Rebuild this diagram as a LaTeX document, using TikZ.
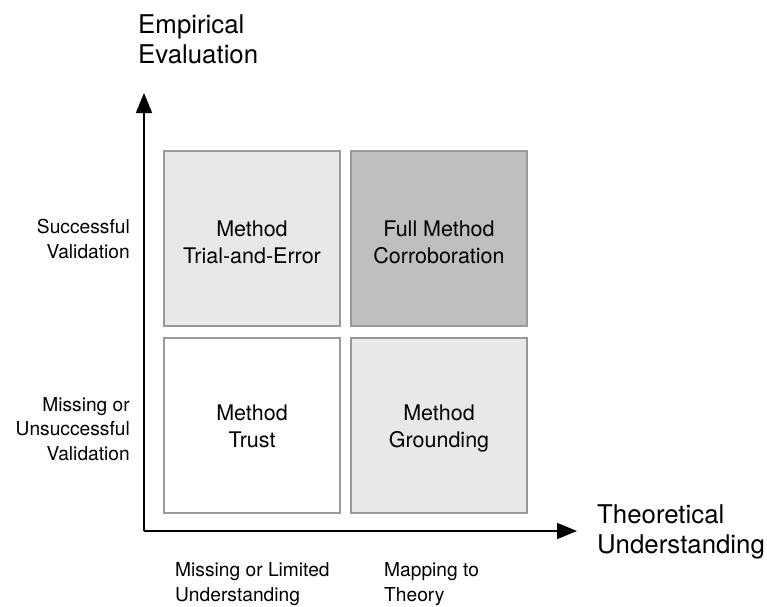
\documentclass[tikz,border=0pt]{standalone}
\usepackage{fontspec}
\setmainfont{TeX Gyre Heros}
\usetikzlibrary{arrows.meta}
\begin{document}
\begin{tikzpicture}[x=1pt,y=-1pt,
  quad/.style={draw=black!40, line width=1.5pt},
  axis/.style={line width=1.6pt, -{Triangle[length=20pt,width=16pt]}},
  boxtext/.style={font=\fontsize{21.5}{26.5}\selectfont, align=center, inner sep=0pt, anchor=base},
  sidelabel/.style={font=\fontsize{19.2}{24.5}\selectfont, inner sep=0pt},
  title/.style={font=\fontsize{25.8}{29.5}\selectfont, align=left, inner sep=0pt, anchor=base west}]
\useasboundingbox (0,0) rectangle (767,606);
% quadrants
\path[quad, fill=black!9] (164,151) rectangle (340,326);
\path[quad, fill=black!25] (351,151) rectangle (527,326);
\path[quad, fill=white] (164,338) rectangle (340,513);
\path[quad, fill=black!9] (351,338) rectangle (527,513);
\node[boxtext] (te) at (252,263) {Method\\Trial-and-Error};
\node[boxtext] (fc) at (439,263) {Full Method\\Corroboration};
\node[boxtext] (mt) at (252,447) {Method\\Trust};
\node[boxtext] (mg) at (439,447) {Method\\Grounding};
% axes
\coordinate (o) at (144,531);
\coordinate (ytip) at (144,93);
\coordinate (xtip) at (577,531);
\draw[axis] (o) -- (ytip);
\draw[axis] (o) -- (xtip);
% titles
\node[title] (yt) at (138,63) {Empirical\\Evaluation};
\node[title] (xt) at (597,553) {Theoretical\\Understanding};
% side labels
\node[sidelabel, align=right, anchor=base east] (sv) at (130,258) {Successful\\Validation};
\node[sidelabel, align=right, anchor=base east] (mv) at (130,460) {Missing or\\Unsuccessful\\Validation};
\node[sidelabel, align=left, anchor=base west] (ml) at (175,601) {Missing or Limited\\Understanding};
\node[sidelabel, align=left, anchor=base west] (mp) at (384,601) {Mapping to\\Theory};
\end{tikzpicture}
\end{document}
